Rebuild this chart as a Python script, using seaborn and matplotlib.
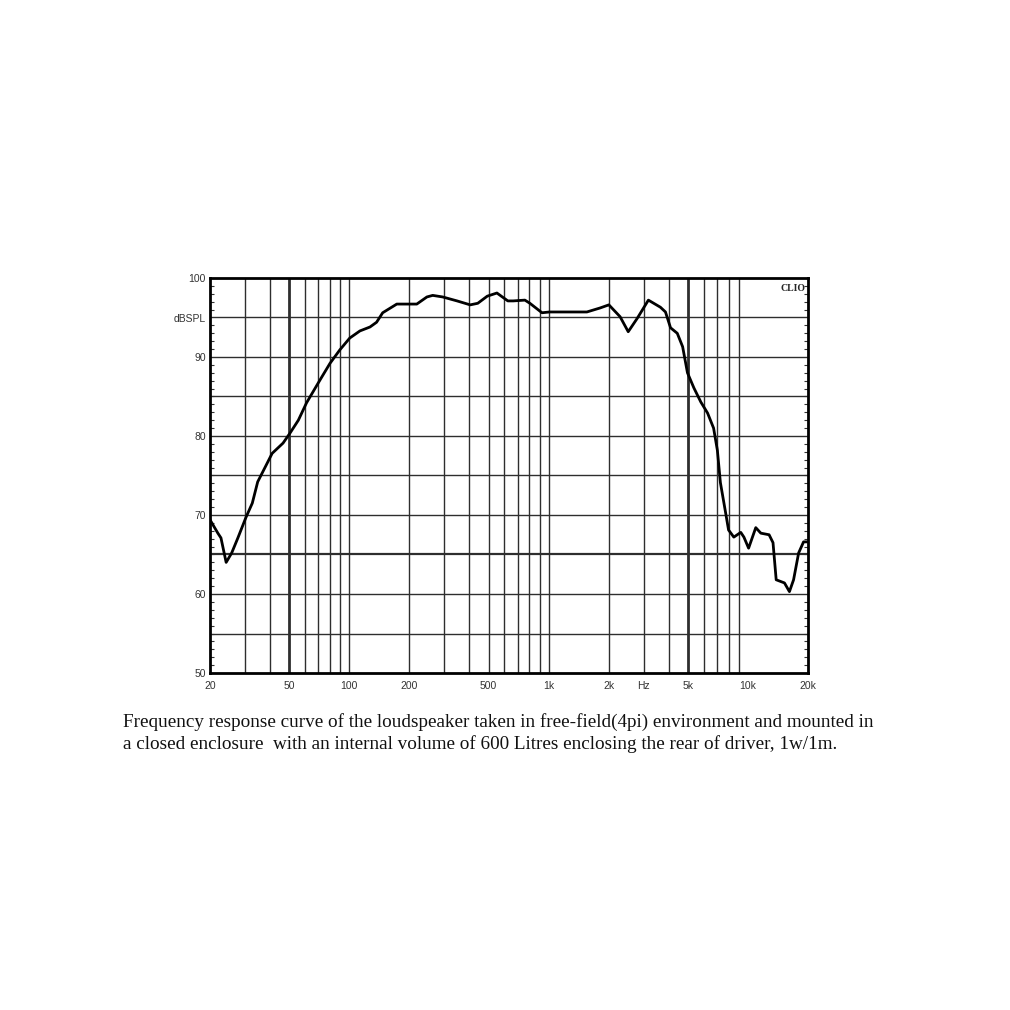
import numpy as np
import pandas as pd
import matplotlib
matplotlib.use("Agg")
import matplotlib.pyplot as plt
from matplotlib.ticker import FixedLocator, MultipleLocator, NullFormatter
import seaborn as sns

#================================================================
# data
#================================================================

freq_hz = [20, 21.9, 22.7, 24.1, 25.7, 27.6, 30.3, 32.6, 34.7, 37.9, 41.0, 46.5, 50.5,
           55.5, 61, 71.3, 80, 89.6, 100.5, 113, 127, 137, 147, 173, 218, 245, 262,
           294, 347, 404, 441, 492, 550, 624, 664, 760, 805, 926, 1011, 1236, 1555,
           1808, 2005, 2282, 2507, 2783, 3164, 3636, 3855, 4087, 4418, 4700, 4970,
           5350, 5800, 6270, 6720, 7020, 7270, 7720, 7990, 8490, 9200, 9540, 10070,
           10940, 11600, 12760, 13350, 13850, 15240, 16140, 16930, 17950, 19000, 20000]

spl_db = [69.4, 67.7, 67.1, 64.0, 65.2, 67.1, 69.7, 71.5, 74.2, 76.1, 77.8, 79.1, 80.4,
          82.0, 84.2, 87.1, 89.2, 90.9, 92.4, 93.3, 93.8, 94.4, 95.6, 96.7, 96.7, 97.6, 97.8,
          97.6, 97.1, 96.6, 96.8, 97.7, 98.1, 97.1, 97.1, 97.2, 96.8, 95.6, 95.7, 95.7, 95.7,
          96.2, 96.6, 95.1, 93.2, 94.9, 97.2, 96.3, 95.7, 93.7, 93.0, 91.3, 88.0,
          86.1, 84.3, 82.9, 81.0, 78.2, 74.1, 70.3, 68.1, 67.2, 67.8, 67.2, 65.8,
          68.4, 67.7, 67.5, 66.5, 61.8, 61.4, 60.3, 61.8, 65.2, 66.6, 66.6]

x_ticks = [20, 50, 100, 200, 500, 1000, 2000, 3000, 5000, 10000, 20000]
x_labels = ["20", "50", "100", "200", "500", "1k", "2k", "Hz", "5k", "10k", "20k"]
y_ticks = [50, 60, 70, 80, 90, 95, 100]
y_labels = ["50", "60", "70", "80", "90", "dBSPL", "100"]

caption = ("Frequency response curve of the loudspeaker taken in free-field(4pi) environment and mounted in\n"
           "a closed enclosure  with an internal volume of 600 Litres enclosing the rear of driver, 1w/1m.")

df = pd.DataFrame({"freq": freq_hz, "spl": spl_db})

sns.set_style("white")
plt.rcParams['font.family'] = ['Liberation Sans', 'DejaVu Sans']

fig = plt.figure(figsize=(10.1, 10.1), dpi=100)
ax = fig.add_axes([210/1010, 1 - 673/1010, 598/1010, 395/1010])

# grid lines (log decades + 5 dB steps)
grid_x = [f * d for d in (10, 100, 1000) for f in range(1, 10)] + [20000]
grid_x = [g for g in grid_x if 20 < g < 20000]
for g in grid_x:
    lw = 2.0 if g in (50, 5000) else 1.0
    ax.axvline(g, color="#2e2e2e", lw=lw, zorder=1)
for h in range(55, 100, 5):
    lw = 1.6 if h == 65 else 1.0
    ax.axhline(h, color="#2e2e2e", lw=lw, zorder=1)

sns.lineplot(data=df, x="freq", y="spl", ax=ax, color="black", lw=2.0, zorder=3)

ax.set_xscale("log")
ax.set_xlim(20, 20000)
ax.set_ylim(50, 100)
ax.xaxis.set_major_locator(FixedLocator(x_ticks))
ax.set_xticklabels(x_labels)
ax.xaxis.set_minor_formatter(NullFormatter())
ax.xaxis.set_minor_locator(FixedLocator([]))
ax.set_yticks(y_ticks)
ax.set_yticklabels(y_labels)
ax.yaxis.set_minor_locator(MultipleLocator(1))
ax.tick_params(axis="both", which="major", length=0, labelsize=7.5, labelcolor="#333333")
ax.tick_params(axis="x", pad=6)
ax.tick_params(axis="y", pad=3)
ax.tick_params(axis="y", which="minor", direction="in", length=3, width=0.8,
               left=True, right=True, color="#333333")
ax.set_xlabel("")
ax.set_ylabel("")

for s in ax.spines.values():
    s.set_visible(True)
    s.set_color("black")
    s.set_linewidth(2.0)

ax.text(0.995, 0.985, "CLIO", transform=ax.transAxes, ha="right", va="top",
        fontsize=7, fontweight="bold", family="Liberation Serif", zorder=4)

fig.text(123/1010, 1 - 713/1010, caption, ha="left", va="top",
         fontsize=13.8, family="Liberation Serif", linespacing=1.28, color="#111111")

fig.savefig("out.png", dpi=100)
